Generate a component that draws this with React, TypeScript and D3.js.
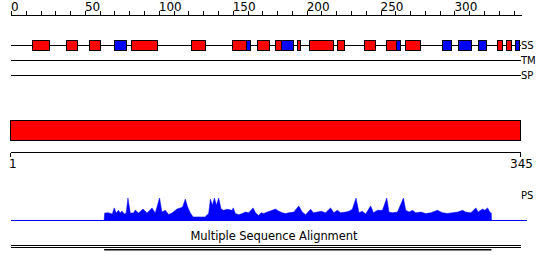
import React from "react";
import * as d3 from "d3";

const seqLength = 345;
const topTicks = d3.range(0, 341, 10);
const topLabels = [0, 50, 100, 150, 200, 250, 300];
const trackNames = ["SS", "TM", "SP"];

// Secondary structure elements (H = helix, red; E = strand, blue)
const ssStart = [14.5, 37.5, 52.5, 69.5, 81.5, 121.5, 149.5, 159, 166.5, 178.5, 182.5, 193.5, 201.5, 220.5, 239, 253.5, 260.5, 266.5, 291.5, 302.5, 316, 329, 335, 341];
const ssEnd = [26, 44.5, 60.5, 77.5, 98.5, 131.5, 159, 162, 174.5, 182.5, 191, 195.5, 218, 225, 246, 260.5, 263, 276.5, 297.5, 311, 321, 332, 338, 343.5];
const ssType = ["H", "H", "H", "E", "H", "H", "H", "E", "H", "H", "E", "H", "H", "H", "H", "H", "E", "H", "E", "E", "E", "H", "H", "E"];

// Domain bar / coverage
const domainStart = 1;
const domainEnd = 345;
const alignmentStart = 63;
const alignmentEnd = 325;

// PS profile (residue, score 0-100)
const profilePos = [63.0, 63.4, 65.7, 68.5, 69.8, 71.2, 72.7, 73.9, 75.0, 76.6, 77.9, 79.1, 80.7, 82.9, 84.0, 86.3, 89.3, 92.0, 95.4, 96.4, 97.6, 100.5, 102.1, 104.4, 106.6, 108.9, 112.3, 114.5, 116.1, 117.9, 119.5, 121.3, 123.2, 131.5, 132.2, 133.7, 134.9, 136.2, 137.6, 139.0, 140.5, 142.1, 143.9, 146.2, 149.6, 150.3, 151.8, 154.1, 156.4, 158.6, 160.8, 163.8, 165.4, 167.6, 169.2, 171.0, 173.3, 175.5, 178.9, 181.2, 183.5, 185.7, 187.9, 191.3, 194.7, 197.0, 199.3, 202.7, 204.5, 207.2, 209.9, 212.8, 216.2, 218.4, 220.8, 223.0, 226.4, 228.6, 230.9, 233.4, 235.4, 237.7, 239.9, 243.3, 245.2, 247.9, 251.3, 254.2, 255.7, 258.0, 261.4, 265.5, 267.0, 269.3, 271.6, 273.8, 277.2, 280.6, 284.0, 288.5, 291.9, 295.3, 298.7, 302.1, 305.5, 307.7, 311.1, 314.5, 316.0, 319.0, 320.6, 322.4, 324.2, 324.9, 325.0];
const profileVal = [0, 32, 33, 27, 55, 32, 44, 32, 41, 27, 32, 100, 32, 32, 45, 32, 50, 32, 55, 44, 32, 100, 36, 44, 25, 32, 50, 55, 59, 95, 59, 32, 14, 14, 21, 29, 95, 67, 100, 67, 100, 50, 44, 49, 44, 55, 29, 24, 29, 36, 33, 55, 33, 21, 33, 29, 36, 41, 50, 40, 33, 29, 33, 36, 64, 36, 24, 49, 33, 36, 40, 33, 55, 33, 44, 33, 36, 40, 49, 100, 33, 40, 27, 64, 33, 44, 44, 100, 36, 33, 36, 100, 44, 36, 44, 33, 36, 29, 33, 44, 33, 30, 33, 36, 44, 36, 33, 55, 36, 50, 44, 55, 33, 32, 0];

const W = 550;
const H = 271;

export default function App() {
  const x = d3.scaleLinear().domain([0, seqLength]).range([11, 521]);
  const xb = d3.scaleLinear().domain([domainStart, domainEnd]).range([10.5, 520.5]);
  const yProf = d3.scaleLinear().domain([0, 100]).range([220, 198]);

  const trackY = [45.5, 60.5, 75.5];
  const profileData = profilePos.map((p, i) => [p, profileVal[i]] as [number, number]);
  const area = d3
    .area<[number, number]>()
    .x((d) => x(d[0]))
    .y0(yProf(0))
    .y1((d) => yProf(d[1]));

  const font = "'DejaVu Sans', sans-serif";

  return (
    <svg
      width={W}
      height={H}
      style={{ position: "absolute", left: 0, top: 0, background: "#fff" }}
      fontFamily={font}
    >
      <rect x={0} y={0} width={W} height={H} fill="#fff" />
      {/* Top axis */}
      <line x1={x(0)} x2={x(seqLength) + 0.5} y1={15.5} y2={15.5} stroke="#000" shapeRendering="crispEdges" />
      {topTicks.map((t) => (
        <line key={t} x1={Math.round(x(t)) + 0.5} x2={Math.round(x(t)) + 0.5} y1={11} y2={15.5} stroke="#000" shapeRendering="crispEdges" />
      ))}
      {topLabels.map((t) => (
        <text key={t} x={x(t)} y={11} fontSize={12} fill="#000">
          {t}
        </text>
      ))}

      {/* Track lines */}
      {trackNames.map((n, i) => (
        <g key={n}>
          <line x1={x(0)} x2={x(seqLength)} y1={trackY[i]} y2={trackY[i]} stroke="#000" shapeRendering="crispEdges" />
          <text x={521} y={trackY[i] + 3.8} fontSize={10} fill="#000">
            {n}
          </text>
        </g>
      ))}

      {/* SS elements */}
      {ssStart.map((s, i) => (
        <rect
          key={i}
          x={Math.round(x(s)) + 0.5}
          y={40.5}
          width={Math.round(x(ssEnd[i])) - Math.round(x(s))}
          height={10}
          fill={ssType[i] === "H" ? "#ff0000" : "#0000ff"}
          stroke="#000"
          strokeWidth={1}
          shapeRendering="crispEdges"
        />
      ))}

      {/* Domain bar */}
      <rect
        x={xb(domainStart)}
        y={120.5}
        width={xb(domainEnd) - xb(domainStart)}
        height={20}
        fill="#ff0000"
        stroke="#000"
        shapeRendering="crispEdges"
      />
      <line x1={xb(domainStart)} x2={xb(domainEnd)} y1={152.5} y2={152.5} stroke="#000" shapeRendering="crispEdges" />
      <line x1={xb(domainStart)} x2={xb(domainStart)} y1={152.5} y2={156.5} stroke="#000" shapeRendering="crispEdges" />
      <line x1={xb(domainEnd)} x2={xb(domainEnd)} y1={152.5} y2={156.5} stroke="#000" shapeRendering="crispEdges" />
      <text x={xb(domainStart) - 1.5} y={167.5} fontSize={12} fill="#000">
        {domainStart}
      </text>
      <text x={xb(domainEnd) + 1} y={167.5} fontSize={12} fill="#000" textAnchor="middle">
        {domainEnd}
      </text>

      {/* PS profile */}
      <path d={area(profileData) || ""} fill="#0000ff" stroke="#0000ff" strokeWidth={0.5} />
      <line x1={x(0)} x2={527} y1={220.5} y2={220.5} stroke="#0000ff" shapeRendering="crispEdges" />
      <text x={521} y={199} fontSize={10} fill="#000">
        PS
      </text>

      {/* MSA */}
      <text x={274} y={239.5} fontSize={11.5} fill="#000" textAnchor="middle" textLength={167} lengthAdjust="spacing">
        Multiple Sequence Alignment
      </text>
      <line x1={x(0)} x2={x(seqLength)} y1={245.5} y2={245.5} stroke="#000" shapeRendering="crispEdges" />
      <line x1={x(0)} x2={x(seqLength)} y1={247.5} y2={247.5} stroke="#000" shapeRendering="crispEdges" />
      <line x1={x(alignmentStart)} x2={x(alignmentEnd)} y1={249.75} y2={249.75} stroke="#000" strokeWidth={1.5} />
    </svg>
  );
}
